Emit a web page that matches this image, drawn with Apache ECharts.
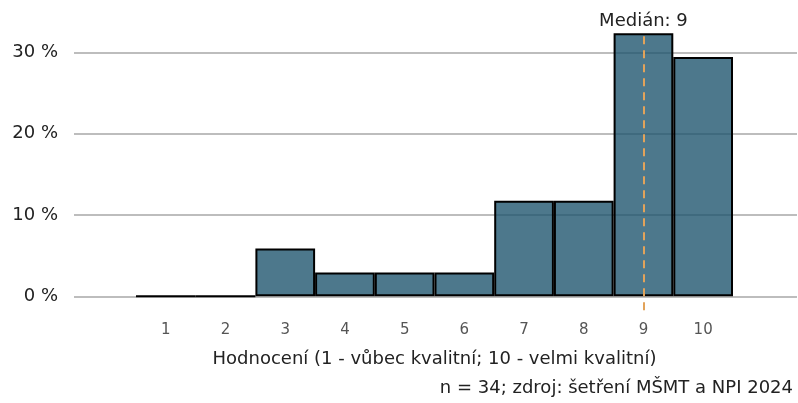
<!DOCTYPE html>
<html>
<head>
<meta charset="utf-8">
<script src="https://cdn.jsdelivr.net/npm/echarts@6/dist/echarts.min.js"></script>
<style>
  html, body { margin: 0; padding: 0; background: #fff; }
  #chart { width: 798px; height: 403px; }
</style>
</head>
<body>
<div id="chart"></div>
<script>
// Ratings 1–10 and share of respondents (n = 34) in percent
const categories = ['1', '2', '3', '4', '5', '6', '7', '8', '9', '10'];
const shares = [0, 0, 5.88, 2.94, 2.94, 2.94, 11.76, 11.76, 32.35, 29.41];
const yTicks = [0, 10, 20, 30];
const median = '9';

const FONT = 'DejaVu Sans';
const chart = echarts.init(document.getElementById('chart'), null, { renderer: 'canvas' });

// both grids share the vertical scale: 0 at y≈296, ≈8.13 px per percent
const PX_PER_PCT = 8.133;
const ZERO_Y = 296.3;
const H = 403;

chart.setOption({
  animation: false,
  textStyle: { fontFamily: FONT },
  grid: [
    // wide grid: horizontal reference lines and percent labels (0–30 %)
    { left: 74, right: 1, top: ZERO_Y - 30 * PX_PER_PCT, bottom: H - ZERO_Y },
    // narrow grid: the histogram (-3–35 %, room below 0 for the median line)
    { left: 136, right: 65, top: ZERO_Y - 35 * PX_PER_PCT, bottom: H - ZERO_Y - 3 * PX_PER_PCT }
  ],
  xAxis: [
    { gridIndex: 0, type: 'value', min: 0, max: 1, show: false },
    {
      gridIndex: 1, type: 'category', data: categories,
      axisLine: { show: false }, axisTick: { show: false },
      axisLabel: { margin: 2, fontSize: 15, color: '#555', fontFamily: FONT },
      name: 'Hodnocení (1 - vůbec kvalitní; 10 - velmi kvalitní)',
      nameLocation: 'middle', nameGap: 30,
      nameTextStyle: { fontSize: 18, color: '#222', fontFamily: FONT }
    }
  ],
  yAxis: [
    {
      gridIndex: 0, type: 'value',
      min: yTicks[0], max: yTicks[yTicks.length - 1], interval: 10,
      axisLine: { show: false }, axisTick: { show: false },
      axisLabel: { margin: 16, fontSize: 18, color: '#222', fontFamily: FONT, formatter: '{value} %' },
      splitLine: { lineStyle: { color: '#bdbdbd', width: 2 } }
    },
    { gridIndex: 1, type: 'value', min: -3, max: 35, show: false }
  ],
  series: [{
    type: 'bar',
    xAxisIndex: 1, yAxisIndex: 1,
    data: shares,
    barWidth: '100%',
    barCategoryGap: 0,
    clip: false,
    itemStyle: { color: 'rgba(27,82,108,0.78)', borderColor: '#000', borderWidth: 2 },
    markLine: {
      symbol: 'none',
      silent: true,
      lineStyle: { color: '#e2a35a', type: [8, 6], width: 2 },
      label: {
        show: true, position: 'end', formatter: 'Medián: ' + median,
        fontSize: 18, color: '#222', fontFamily: FONT, distance: 1
      },
      data: [[{ coord: [median, -1.7] }, { coord: [median, 32.6] }]]
    }
  }],
  graphic: [{
    type: 'text',
    right: 5, top: 379,
    style: {
      text: 'n = 34; zdroj: šetření MŠMT a NPI 2024',
      font: '18px "' + FONT + '"', fill: '#222'
    }
  }]
});
</script>
</body>
</html>
